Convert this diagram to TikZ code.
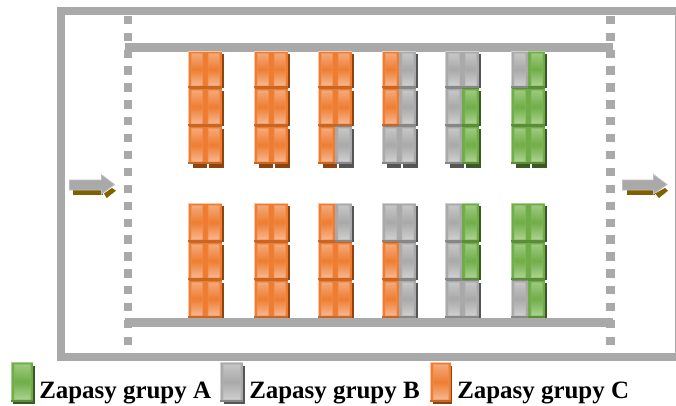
\documentclass[tikz,border=0pt]{standalone}
\usepackage{fontspec}
\setmainfont{Liberation Serif}
\definecolor{wallgrey}{HTML}{A9A9A9}
\definecolor{obase}{HTML}{EE7D31}
\definecolor{olite}{HTML}{F6B48C}
\definecolor{oedge}{HTML}{F8C8A6}
\definecolor{oshad}{HTML}{8F430F}
\definecolor{gbase}{HTML}{70AD47}
\definecolor{glite}{HTML}{A9D18E}
\definecolor{gedge}{HTML}{A9D18E}
\definecolor{gshad}{HTML}{3A5A25}
\definecolor{ybase}{HTML}{A9A9A9}
\definecolor{ylite}{HTML}{CDCDCD}
\definecolor{yedge}{HTML}{D0D0D0}
\definecolor{yshad}{HTML}{555555}
\definecolor{arrowbrown}{HTML}{806000}
\tikzset{
  wall/.style={draw=wallgrey,line width=5.7pt,line join=miter},
  legendlabel/.style={font=\bfseries\fontsize{18.7pt}{20pt}\selectfont,anchor=base west,inner sep=0pt,text=black},
  flowarrow/.style={fill=wallgrey,draw=wallgrey!75!white,line width=.6pt,line join=miter},
  flowshadow/.style={fill=arrowbrown,draw=none},
}
% \cellbox{x0}{y0}{x1}{y1}{prefix}: one stock unit, top-left to bottom-right in px
\newcommand{\cellbox}[5]{%
  \fill[#5edge] (#1,#2) rectangle (#3,#4);
  \fill[#5base] ({#1+.9},{#2+.9}) rectangle (#3,#4);
  \fill[#5shad!40!#5base] (#1,{#4-1.6}) rectangle (#3,#4);
  \shade[top color=#5lite!45!#5base,bottom color=#5lite!70!#5base,middle color=#5base!85!#5lite]
    ({#1+2.8},{#2+2.6}) rectangle ({#3-2.4},{#4-2.8});
  \shade[top color=#5lite!75!#5base,bottom color=#5lite,middle color=#5base]
    ({#1+3.8},{#2+3.4}) rectangle ({#3-3.4},{#4-3.6});
}
% \rowunit{x}{y0}{y1}{left}{right}
\newcommand{\rowunit}[5]{%
  \fill[#5shad] ({#1+34},{#2+3}) rectangle ({#1+36},{#3});
  \cellbox{#1}{#2}{\the\numexpr#1+17\relax}{#3}{#4}%
  \cellbox{\the\numexpr#1+17\relax}{#2}{\the\numexpr#1+34\relax}{#3}{#5}%
  \fill[#5base] ({#1+17},{#2+.9}) rectangle ({#1+18},{#3-1.6});
}
% \seam{x}{y}{left}{right}: row joint without the light top edge
\newcommand{\seam}[4]{%
  \fill[#3shad!40!#3base] ({#1+1},#2) rectangle ({#1+17},{#2+.9});
  \fill[#4shad!40!#4base] ({#1+17},#2) rectangle ({#1+34},{#2+.9});
}
\newcommand{\footing}[3]{%
  \fill[#2shad] ({#1+5},164) rectangle ({#1+19},168);
  \fill[#3shad] ({#1+21},164) rectangle ({#1+36},168);
}
\begin{document}
\begin{tikzpicture}[x=0.75pt,y=-0.75pt]
\useasboundingbox (0,0) rectangle (676,405);
\fill[white] (0,0) rectangle (676,405);
% outer frame (right side runs off the page)
\draw[wall] (61,11) rectangle (678.8,357);
% dotted side lines
\foreach \k in {0,...,19}{
  \fill[wallgrey] (123.5,{15.7+16.9*\k}) rectangle (132,{24+16.9*\k});
  \fill[wallgrey] (606,{15.7+16.9*\k}) rectangle (614.6,{24+16.9*\k});
}
% top rack
\fill[wallgrey] (125,43.3) rectangle (613,51.7);
% top block
\foreach \x/\a/\b/\c/\d/\e/\f in {
  188/o/o/o/o/o/o, 254/o/o/o/o/o/o, 318/o/o/o/o/o/y,
  382/o/y/o/y/y/y, 445/y/y/y/g/y/g, 511/y/g/g/g/g/g}{
  \rowunit{\x}{51}{88}{\a}{\b}
  \rowunit{\x}{88}{126}{\c}{\d}
  \rowunit{\x}{126}{164}{\e}{\f}
  \seam{\x}{88}{\c}{\d}
  \seam{\x}{126}{\e}{\f}
  \footing{\x}{\e}{\f}
}
% bottom block
\foreach \x/\a/\b/\c/\d/\e/\f in {
  188/o/o/o/o/o/o, 254/o/o/o/o/o/o, 318/o/y/o/o/o/o,
  382/y/y/o/y/o/y, 445/y/g/y/g/y/y, 511/g/g/g/g/y/g}{
  \rowunit{\x}{203}{242}{\a}{\b}
  \rowunit{\x}{242}{280}{\c}{\d}
  \rowunit{\x}{280}{318}{\e}{\f}
  \seam{\x}{242}{\c}{\d}
  \seam{\x}{280}{\e}{\f}
}
% bottom rack
\fill[wallgrey] (125,317.5) rectangle (613,326.5);
% arrows
\fill[flowshadow] (73,189) rectangle (103,195);
\fill[flowshadow] (104,193.5) -- (112,188) -- (116,190.7) -- (106.7,198) -- cycle;
\draw[flowarrow] (69.5,180) -- (101.5,180) -- (101.5,174.8) -- (114.5,184.5) -- (101.5,194) -- (101.5,190) -- (69.5,190) -- cycle;
\fill[flowshadow] (626.7,189) rectangle (655,195);
\fill[flowshadow] (655,193.5) -- (665,188) -- (668,190.7) -- (659,198) -- cycle;
\draw[flowarrow] (622.5,180) -- (653.5,180) -- (653.5,174.5) -- (667,184.5) -- (653.5,194) -- (653.5,190) -- (622.5,190) -- cycle;
% legend
\fill[gshad] (13,366) rectangle (35,404);
\cellbox{11}{362}{33}{402}{g}
\fill[yshad] (224,366) rectangle (245,404);
\cellbox{220}{362}{243}{402}{y}
\fill[oshad] (433,366) rectangle (452,404);
\cellbox{430}{362}{451}{402}{o}
\node[legendlabel] (la) at (39,398) {Zapasy grupy A};
\node[legendlabel] (lb) at (249,398) {Zapasy grupy B};
\node[legendlabel] (lc) at (457,398) {Zapasy grupy C};
\end{tikzpicture}
\end{document}
